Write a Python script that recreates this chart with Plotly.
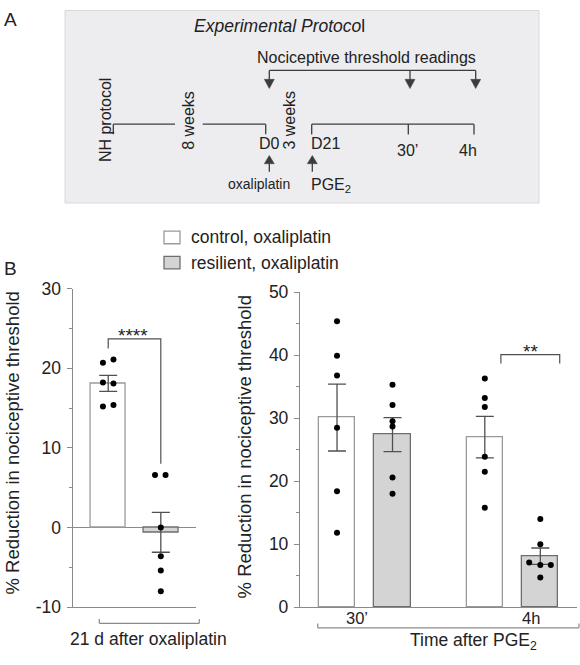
import plotly.graph_objects as go

# ---------------- data ----------------
groups = ["control, oxaliplatin", "resilient, oxaliplatin"]

# 21 d after oxaliplatin
mean_21d = [18.1, -0.6]
sem_21d = [1.0, 2.5]
pts_21d_control = [21.1, 20.7, 18.2, 18.1, 15.4, 15.2]
pts_21d_resilient = [6.6, 6.6, 0.0, -3.6, -5.4, -8.0]

# Time after PGE2
time_labels = ["30’", "4h"]
mean_control = [30.1, 27.0]
sem_control = [5.3, 3.3]
mean_resilient = [27.4, 8.1]
sem_resilient = [2.7, 1.3]
pts_control_30 = [45.4, 39.9, 36.8, 28.5, 18.4, 11.8]
pts_resilient_30 = [35.3, 32.1, 29.5, 28.7, 20.6, 18.0]
pts_control_4h = [36.3, 33.2, 31.8, 23.9, 21.5, 15.8]
pts_resilient_4h = [14.0, 10.0, 7.1, 6.7, 6.7, 4.7]

left_ticks = [-10, 0, 10, 20, 30]
left_ticktext = ["-10", "0", "10", "20", "30"]
right_ticks = [0, 10, 20, 30, 40, 50]

# ---------------- style / layout constants ----------------
W, H = 580, 665
FONT = "Liberation Sans, Arial, sans-serif"
TXT = "#222222"
AX = "#8a8a8a"
LINE_A = "#3c3c3c"
GRAY_FILL = "#d4d4d4"
GRAY_EDGE = "#6e6e6e"
WHITE_EDGE = "#9a9a9a"
ERR = "#505050"
DOT = 6

# jitter (horizontal spread of overlapping dots)
jit_21d_control = [0.1, -0.1, -0.1, 0.1, 0.1, -0.1]
jit_21d_resilient = [-0.11, 0.09, 0, 0, 0, 0]
jit_zero = [0, 0, 0, 0, 0, 0]
jit_resilient_4h = [0, 0, -0.2, 0, 0.19, 0]

GROUP_GAP = 2.663   # distance between 30' and 4h groups (in bar-pair units)


def px(x):
    return x / W


def py(y):
    return 1 - y / H


fig = go.Figure()

# ---------------- left chart (21 d) ----------------
pos_21d = list(range(len(groups)))
fig.add_trace(go.Bar(
    x=pos_21d, y=mean_21d, width=0.665,
    marker=dict(color=["white", GRAY_FILL], line=dict(color=[WHITE_EDGE, GRAY_EDGE], width=1.3)),
    error_y=dict(type="data", array=sem_21d, color=ERR, thickness=1.3, width=9),
    xaxis="x", yaxis="y", showlegend=False, hoverinfo="skip"))
for gi, (pts, jit) in enumerate([(pts_21d_control, jit_21d_control),
                                 (pts_21d_resilient, jit_21d_resilient)]):
    fig.add_trace(go.Scatter(
        x=[pos_21d[gi] + j for j in jit], y=pts, mode="markers",
        marker=dict(color="black", size=DOT),
        xaxis="x", yaxis="y", showlegend=False, hoverinfo="skip"))

# ---------------- right chart (time after PGE2) ----------------
pos_ctrl = [i * GROUP_GAP for i in range(len(time_labels))]
pos_res = [p + 1 for p in pos_ctrl]
fig.add_trace(go.Bar(
    x=pos_ctrl, y=mean_control, width=0.65,
    marker=dict(color="white", line=dict(color=WHITE_EDGE, width=1.3)),
    error_y=dict(type="data", array=sem_control, color=ERR, thickness=1.3, width=9),
    xaxis="x2", yaxis="y2", showlegend=False, hoverinfo="skip"))
fig.add_trace(go.Bar(
    x=pos_res, y=mean_resilient, width=0.65,
    marker=dict(color=GRAY_FILL, line=dict(color=GRAY_EDGE, width=1.3)),
    error_y=dict(type="data", array=sem_resilient, color=ERR, thickness=1.3, width=9),
    xaxis="x2", yaxis="y2", showlegend=False, hoverinfo="skip"))
for base, pts, jit in [(pos_ctrl[0], pts_control_30, jit_zero),
                       (pos_res[0], pts_resilient_30, jit_zero),
                       (pos_ctrl[1], pts_control_4h, jit_zero),
                       (pos_res[1], pts_resilient_4h, jit_resilient_4h)]:
    fig.add_trace(go.Scatter(
        x=[base + j for j in jit], y=pts, mode="markers",
        marker=dict(color="black", size=DOT),
        xaxis="x2", yaxis="y2", showlegend=False, hoverinfo="skip"))

line_common = dict(showgrid=False, showline=True, linecolor=AX, linewidth=1.3)
tick_common = dict(tickcolor=AX, tickwidth=1.3, tickfont=dict(family=FONT, size=17.5, color=TXT))

fig.update_layout(
    width=W, height=H, margin=dict(l=0, r=0, t=0, b=0),
    paper_bgcolor="white", plot_bgcolor="rgba(0,0,0,0)",
    font=dict(family=FONT, color=TXT),
    bargap=0,
    xaxis=dict(domain=[px(72.7), px(196)], range=[-0.675, 1.669], showticklabels=False,
               ticks="", zeroline=False, **line_common),
    yaxis=dict(domain=[py(615.7), py(287.3)], range=[-10, 30], tickvals=left_ticks, ticktext=left_ticktext,
               ticks="outside", ticklen=5, minor=dict(dtick=5, tick0=0, ticks="outside", ticklen=3, tickcolor=AX),
               zeroline=True, zerolinecolor=AX, zerolinewidth=1.3, ticklabelstandoff=2,
               **line_common, **tick_common),
    xaxis2=dict(domain=[px(300), px(576.7)], range=[-0.667, 4.319], showticklabels=False,
                ticks="", zeroline=False, anchor="y2", **line_common),
    yaxis2=dict(domain=[py(615.7), py(291)], range=[0, 50], tickvals=right_ticks, anchor="x2",
                ticks="outside", ticklen=5, minor=dict(dtick=5, tick0=0, ticks="outside", ticklen=3, tickcolor=AX),
                zeroline=False, ticklabelstandoff=2, **line_common, **tick_common),
)

shapes = []
annotations = []


def line(x0, y0, x1, y1, color=LINE_A, width=1.3):
    shapes.append(dict(type="line", xref="paper", yref="paper", x0=px(x0), y0=py(y0), x1=px(x1), y1=py(y1),
                       line=dict(color=color, width=width)))


def tri(x, ybase, ytip, half=5, color=LINE_A):
    shapes.append(dict(type="path", xref="paper", yref="paper",
                       path=f"M {px(x-half)} {py(ybase)} L {px(x+half)} {py(ybase)} L {px(x)} {py(ytip)} Z",
                       fillcolor=color, line=dict(color=color, width=0.5)))


def ann(text, x, y, size, xanchor="center", yanchor="middle", angle=0, color=TXT):
    annotations.append(dict(text=text, x=px(x), y=py(y), xref="paper", yref="paper", showarrow=False,
                            xanchor=xanchor, yanchor=yanchor, textangle=angle,
                            font=dict(family=FONT, size=size, color=color)))


# ---------------- panel A ----------------
shapes.append(dict(type="rect", xref="paper", yref="paper", x0=px(65), x1=px(539), y0=py(199), y1=py(0.5),
                   fillcolor="#ededef", line=dict(color="#d8d8da", width=1), layer="below"))
ann("A", 2, 10, 19, xanchor="left")
ann("<i>Experimental Protoco</i>l", 279, 16, 17.5)
ann("Nociceptive threshold readings", 366.5, 49, 16)
# readings bracket with down arrows
line(269.3, 62.3, 475.7, 62.3)
for xa in [269.3, 410, 475.7]:
    line(xa, 62.3, xa, 72)
    tri(xa, 71.5, 81)
# timeline
line(113.3, 117.7, 175, 117.7)
line(113.3, 117.7, 113.3, 128)
line(202.7, 117.7, 265.7, 117.7)
line(265.7, 117.7, 265.7, 128)
line(311.7, 117.7, 474, 117.7)
for xt in [311.7, 408.3, 474]:
    line(xt, 117.7, xt, 128.3)
ann("NH protocol", 105, 113.5, 16, angle=-90)
ann("8 weeks", 188.3, 114, 16, angle=-90)
ann("3 weeks", 290, 114, 16, angle=-90)
ann("D0", 269, 137.5, 16)
ann("D21", 309, 137.5, 16, xanchor="left")
ann("30’", 407.5, 144.5, 16)
ann("4h", 467.5, 144.5, 16)
# up arrows
for xu in [269.3, 312.3]:
    tri(xu, 158.5, 150)
    line(xu, 158, xu, 166.7)
ann("oxaliplatin", 259, 179.5, 14)
ann("PGE<sub>2</sub>", 309, 181, 16, xanchor="left")

# ---------------- panel B ----------------
ann("B", 2, 266, 19, xanchor="left")
# legend
shapes.append(dict(type="rect", xref="paper", yref="paper", x0=px(164), x1=px(180), y0=py(241), y1=py(228),
                   fillcolor="white", line=dict(color=WHITE_EDGE, width=1.3)))
shapes.append(dict(type="rect", xref="paper", yref="paper", x0=px(164), x1=px(180), y0=py(267), y1=py(254),
                   fillcolor=GRAY_FILL, line=dict(color=GRAY_EDGE, width=1.3)))
ann(groups[0], 188.5, 234.5, 17.5, xanchor="left")
ann(groups[1], 188.5, 260.5, 17.5, xanchor="left")

# y-axis titles
ann("% Reduction in nociceptive threshold", 13, 447, 18.5, angle=-90)
ann("% Reduction in nociceptive threshold", 244, 451, 18.5, angle=-90)

# significance brackets (data coordinates)
shapes.append(dict(type="path", xref="x", yref="y",
                   path=f"M {pos_21d[0]} 22.5 L {pos_21d[0]} 23.7 L {pos_21d[1]} 23.7 L {pos_21d[1]} 8.0",
                   line=dict(color=ERR, width=1.2)))
ann("****", 133, 336, 19)
shapes.append(dict(type="path", xref="x2", yref="y2",
                   path=f"M {pos_ctrl[1] + 0.29} 38.7 L {pos_ctrl[1] + 0.29} 40.1 L {pos_res[1] + 0.35} 40.1 L {pos_res[1] + 0.35} 38.7",
                   line=dict(color=ERR, width=1.2)))
ann("**", 530, 352.5, 19)

# x labels and group brackets
ann(time_labels[0], 357, 626.7, 16.5)
ann(time_labels[1], 531, 626.7, 16.5)
line(99.3, 632.3, 199.3, 632.3, color=AX, width=1.2)
line(99.3, 632.3, 99.3, 628, color=AX, width=1.2)
line(199.3, 632.3, 199.3, 628, color=AX, width=1.2)
ann("21 d after oxaliplatin", 148.5, 648, 17.5)
line(317.7, 637, 579, 637, color=AX, width=1.2)
line(317.7, 637, 317.7, 632.5, color=AX, width=1.2)
line(579, 637, 579, 632.5, color=AX, width=1.2)
ann("Time after PGE<sub>2</sub>", 473, 651, 17.5)

fig.update_layout(shapes=shapes, annotations=annotations)
fig.write_html("out.html", config={"displayModeBar": False},
               post_script="document.body.style.margin='0';document.body.style.overflow='hidden';")
